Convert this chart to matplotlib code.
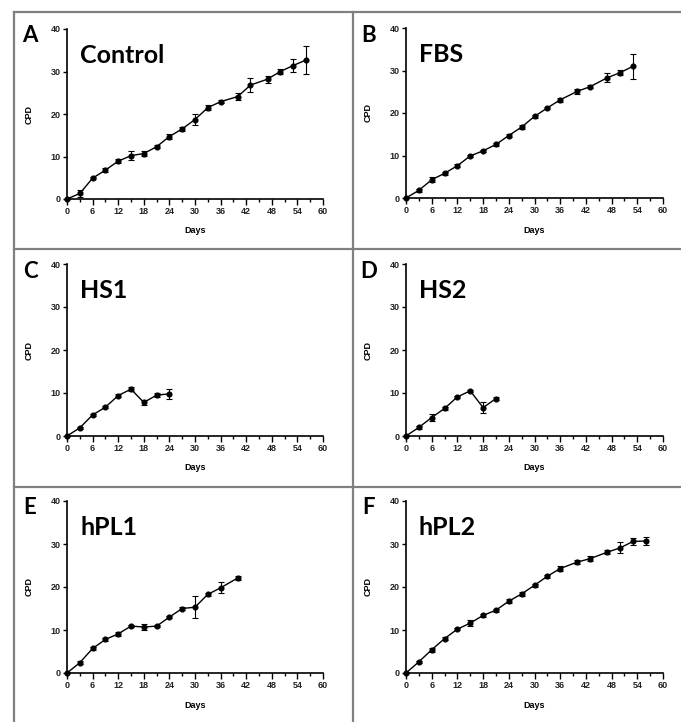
import matplotlib
matplotlib.use("Agg")
import matplotlib.pyplot as plt
from matplotlib.lines import Line2D
from matplotlib.ticker import MultipleLocator

W, H = 681, 722

# ---- data (Days vs cumulative population doublings) ----
days_control = [0, 3, 6, 9, 12, 15, 18, 21, 24, 27, 30, 33, 36, 40, 43, 47, 50, 53, 56]
cpd_control = [0, 1.3, 4.9, 6.8, 8.9, 10.2, 10.7, 12.3, 14.7, 16.5, 18.7, 21.5, 22.9,
               24.1, 26.8, 28.2, 30.0, 31.4, 32.7]
err_control = [0, 0.8, 0.3, 0.4, 0.4, 1.0, 0.5, 0.4, 0.5, 0.5, 1.2, 0.6, 0.4,
               0.8, 1.6, 0.8, 0.6, 1.6, 3.4]

days_fbs = [0, 3, 6, 9, 12, 15, 18, 21, 24, 27, 30, 33, 36, 40, 43, 47, 50, 53]
cpd_fbs = [0, 1.8, 4.3, 5.8, 7.6, 9.9, 11.1, 12.6, 14.7, 16.7, 19.2, 21.2, 23.1,
           25.1, 26.2, 28.3, 29.5, 31.0]
err_fbs = [0, 0.4, 0.6, 0.3, 0.3, 0.3, 0.3, 0.3, 0.4, 0.4, 0.4, 0.3, 0.5,
           0.6, 0.4, 1.0, 0.6, 2.9]

days_hs1 = [0, 3, 6, 9, 12, 15, 18, 21, 24]
cpd_hs1 = [0, 1.9, 4.9, 6.7, 9.4, 10.9, 7.8, 9.5, 9.8]
err_hs1 = [0, 0.3, 0.3, 0.3, 0.4, 0.4, 0.5, 0.4, 1.2]

days_hs2 = [0, 3, 6, 9, 12, 15, 18, 21]
cpd_hs2 = [0, 2.0, 4.3, 6.4, 9.1, 10.5, 6.6, 8.7]
err_hs2 = [0, 0.3, 0.8, 0.3, 0.3, 0.3, 1.3, 0.4]

days_hpl1 = [0, 3, 6, 9, 12, 15, 18, 21, 24, 27, 30, 33, 36, 40]
cpd_hpl1 = [0, 2.4, 5.7, 7.8, 9.1, 10.9, 10.7, 10.9, 13.0, 15.0, 15.3, 18.3, 19.8, 22.1]
err_hpl1 = [0, 0.3, 0.3, 0.3, 0.5, 0.3, 0.6, 0.3, 0.3, 0.3, 2.6, 0.4, 1.3, 0.4]

days_hpl2 = [0, 3, 6, 9, 12, 15, 18, 21, 24, 27, 30, 33, 36, 40, 43, 47, 50, 53, 56]
cpd_hpl2 = [0, 2.6, 5.4, 8.0, 10.2, 11.6, 13.4, 14.6, 16.7, 18.4, 20.4, 22.5, 24.3,
            25.8, 26.6, 28.1, 29.1, 30.6, 30.7]
err_hpl2 = [0, 0.3, 0.4, 0.3, 0.3, 0.7, 0.3, 0.3, 0.4, 0.4, 0.3, 0.4, 0.6,
            0.4, 0.5, 0.4, 1.3, 0.8, 1.0]

letters = ["A", "B", "C", "D", "E", "F"]
names = ["Control", "FBS", "HS1", "HS2", "hPL1", "hPL2"]
series = [(days_control, cpd_control, err_control), (days_fbs, cpd_fbs, err_fbs),
          (days_hs1, cpd_hs1, err_hs1), (days_hs2, cpd_hs2, err_hs2),
          (days_hpl1, cpd_hpl1, err_hpl1), (days_hpl2, cpd_hpl2, err_hpl2)]

# axes boxes in pixels: (left, top, right, bottom)
boxes = [(67, 29, 323, 199), (406, 28, 663, 198),
         (67, 264, 323, 436), (406, 264, 663, 436),
         (67, 501, 323, 673), (406, 501, 663, 673)]

SMALL = dict(family="Liberation Sans", weight="bold", size=6.5)
BIG = dict(family="Lato", weight="bold")


def px(x, y):
    return x / W, 1 - y / H


fig = plt.figure(figsize=(W / 100, H / 100), dpi=100)

for (l, t, r, b), let, name, (d, v, e) in zip(boxes, letters, names, series):
    ax = fig.add_axes([l / W, 1 - b / H, (r - l) / W, (b - t) / H])
    ax.errorbar(d, v, yerr=e, color="black", lw=1.0, marker="o", ms=3.4,
                elinewidth=0.8, capsize=2, capthick=0.8, clip_on=False, zorder=3)
    ax.set_xlim(0, 60)
    ax.set_ylim(0, 40)
    ax.xaxis.set_major_locator(MultipleLocator(6))
    ax.xaxis.set_minor_locator(MultipleLocator(3))
    ax.yaxis.set_major_locator(MultipleLocator(10))
    ax.tick_params(axis="x", which="major", length=4, width=1, pad=2)
    ax.tick_params(axis="x", which="minor", length=2, width=1)
    ax.tick_params(axis="y", length=3, width=1, pad=1.5)
    for lab in ax.get_xticklabels() + ax.get_yticklabels():
        lab.set_fontfamily(SMALL["family"])
        lab.set_fontweight("bold")
        lab.set_fontsize(SMALL["size"])
        lab.set_color("#222222")
    for s in ("top", "right"):
        ax.spines[s].set_visible(False)
    for s in ("left", "bottom"):
        ax.spines[s].set_linewidth(1.2)
    ax.set_facecolor("none")

    fig.text(*px(l - 37, t + 7), let, ha="center", va="center", size=16, **BIG)
    fig.text(*px(l + 13, t + 34), name, ha="left", va="baseline", size=18, **BIG)
    fig.text(*px((l + r) / 2, b + 32), "Days", ha="center", va="center", **SMALL)
    fig.text(*px(l - 38, (t + b) / 2), "CPD", ha="center", va="center",
             rotation=90, **SMALL)

# panel frame lines
grey = "#808080"
for x0, y0, x1, y1 in [(14, 12, 681, 12), (14, 12, 14, 722), (353, 12, 353, 722),
                       (14, 249, 681, 249), (14, 487, 681, 487)]:
    fig.add_artist(Line2D([x0 / W, x1 / W], [1 - y0 / H, 1 - y1 / H],
                          color=grey, lw=1.6, transform=fig.transFigure))

fig.savefig("out.png", dpi=100, facecolor="white")
